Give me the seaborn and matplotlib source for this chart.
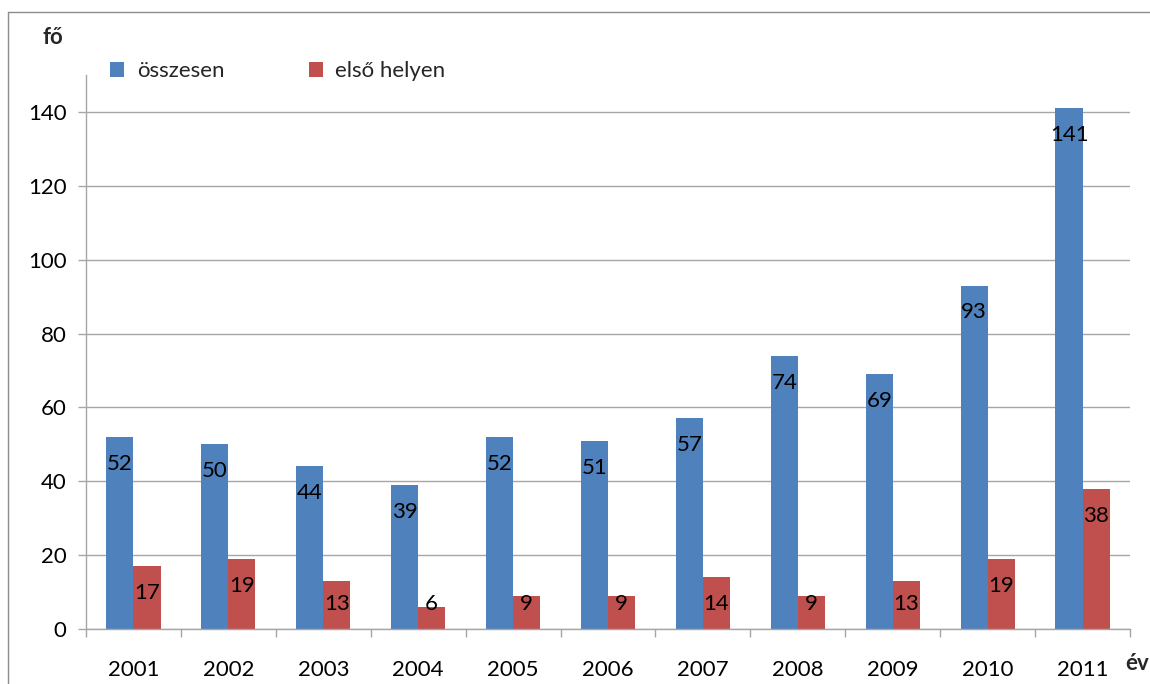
import numpy as np
import pandas as pd
import matplotlib
matplotlib.use("Agg")
import matplotlib.pyplot as plt
from matplotlib.lines import Line2D
from matplotlib.patches import Patch
import seaborn as sns

# --- data ---
years = ["2001", "2002", "2003", "2004", "2005", "2006",
         "2007", "2008", "2009", "2010", "2011"]
osszesen = [52, 50, 44, 39, 52, 51, 57, 74, 69, 93, 141]
elso_helyen = [17, 19, 13, 6, 9, 9, 14, 9, 13, 19, 38]
series_names = ["összesen", "első helyen"]
series_colors = ["#4F81BD", "#C0504D"]

df = pd.DataFrame({
    "ev": years * 2,
    "fo": osszesen + elso_helyen,
    "sorozat": [series_names[0]] * len(years) + [series_names[1]] * len(years),
})

sns.set_theme(style="white")
plt.rcParams['font.family'] = ['Lato', 'DejaVu Sans']

GRID = "#A6A6A6"
FS = 16

fig = plt.figure(figsize=(11.5, 6.84), dpi=100)
ax = fig.add_axes([86 / 1150, 1 - 629 / 684, (1130 - 86) / 1150, (629 - 75) / 684])

sns.barplot(data=df, x="ev", y="fo", hue="sorozat", order=years,
            hue_order=series_names, palette=series_colors, width=0.57,
            gap=0, saturation=1, legend=False, ax=ax, edgecolor="none")

# value labels inside the top of each bar (short bars: kept above the axis)
for bar in ax.patches:
    h = bar.get_height()
    if np.isnan(h):
        continue
    ax.text(bar.get_x() + bar.get_width() / 2, max(h - 7.3, 6.8),
            f"{int(round(h))}", ha="center", va="center",
            fontsize=FS, color="black")

ax.set_xlim(-0.5, len(years) - 0.5)
ax.set_ylim(0, 150)
ax.set_yticks(np.arange(0, 141, 20))
ax.yaxis.grid(True, color=GRID, linewidth=1)
ax.xaxis.grid(False)
ax.set_axisbelow(True)

ax.set_xticks(range(len(years)))
ax.set_xticklabels(years)
ax.set_xticks(np.arange(-0.5, len(years), 1), minor=True)
ax.tick_params(axis="x", which="major", length=0, pad=22, labelsize=FS, colors="black")
ax.tick_params(axis="x", which="minor", length=6, width=1, color=GRID, bottom=True)
ax.tick_params(axis="y", length=6, width=1, color=GRID, left=True, pad=8,
               labelsize=FS, labelcolor="black")
ax.set_xlabel("")
ax.set_ylabel("")

for side in ["top", "right"]:
    ax.spines[side].set_visible(False)
for side in ["left", "bottom"]:
    ax.spines[side].set_color(GRID)
    ax.spines[side].set_linewidth(1)

# axis titles
fig.text(53 / 1150, 1 - 38 / 684, "fő", fontsize=FS, fontweight="bold",
         ha="center", va="center")
fig.text(1137 / 1150, 1 - 663 / 684, "év", fontsize=FS, fontweight="bold",
         ha="center", va="center")

# legend
handles = [Patch(facecolor=c, edgecolor="none") for c in series_colors]
fig.legend(handles, series_names, loc="center left",
           bbox_to_anchor=(110 / 1150, 1 - 71 / 684), ncol=2, frameon=False,
           fontsize=FS, handlelength=0.65, handleheight=0.65, handletextpad=0.55,
           columnspacing=3.8, borderaxespad=0, borderpad=0)

# outer chart border (only top and left visible in the crop)
fig.add_artist(Line2D([8 / 1150, 1], [1 - 12 / 684, 1 - 12 / 684],
                      transform=fig.transFigure, color="#8C8C8C", linewidth=1))
fig.add_artist(Line2D([8 / 1150, 8 / 1150], [0, 1 - 12 / 684],
                      transform=fig.transFigure, color="#8C8C8C", linewidth=1))

fig.savefig("out.png", dpi=100)
